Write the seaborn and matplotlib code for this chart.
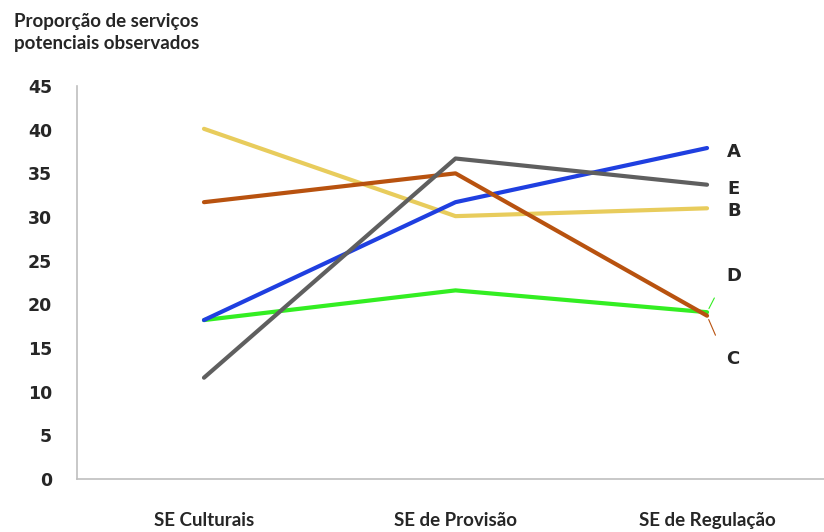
import pandas as pd
import matplotlib
matplotlib.use('Agg')
import matplotlib.pyplot as plt
import seaborn as sns

categorias = ['SE Culturais', 'SE de Provisão', 'SE de Regulação']
serie_A = [18.2, 31.7, 37.9]
serie_B = [40.1, 30.1, 31.0]
serie_C = [31.7, 35.0, 18.7]
serie_D = [18.2, 21.6, 19.1]
serie_E = [11.6, 36.7, 33.7]

nomes = ['A', 'B', 'C', 'D', 'E']
cores = {'A': '#1f3fe0', 'B': '#e8cc5c', 'C': '#b8520f', 'D': '#33ee22', 'E': '#5f5f5f'}

df = pd.DataFrame({'categoria': categorias * 5,
                   'serie': [n for n in nomes for _ in categorias],
                   'valor': serie_A + serie_B + serie_C + serie_D + serie_E})
df['x'] = df['categoria'].map({c: i for i, c in enumerate(categorias)})

sns.set_style('white')

fig = plt.figure(figsize=(8.24, 5.32), dpi=100)
ax = fig.add_axes([0.0934, 0.0996, 0.9066, 0.7387])

# ordem de desenho: cinza por cima do azul, etc.
ordem = ['D', 'B', 'A', 'C', 'E']
sns.lineplot(data=df, x='x', y='valor', hue='serie', hue_order=ordem, palette=cores,
             linewidth=3, legend=False, ax=ax, sort=False)

ax.set_xlim(-0.505, 2.465)
ax.set_ylim(0, 45)
ax.set_yticks(range(0, 46, 5))
ax.set_yticklabels([str(v) for v in range(0, 46, 5)], fontsize=12.5, fontweight='bold',
                   family='DejaVu Sans')
ax.set_xticks(range(len(categorias)))
ax.set_xticklabels(categorias, fontsize=13.5, fontweight='bold', family='Lato')
ax.tick_params(axis='both', length=0)
ax.tick_params(axis='x', pad=24)
ax.tick_params(axis='y', pad=18)
ax.set_xlabel('')
ax.set_ylabel('')

for s in ['top', 'right']:
    ax.spines[s].set_visible(False)
for s in ['left', 'bottom']:
    ax.spines[s].set_color('#bfbfbf')
    ax.spines[s].set_linewidth(1.2)

# rótulos das séries
ultimo = {'A': serie_A[-1], 'B': serie_B[-1], 'C': serie_C[-1], 'D': serie_D[-1], 'E': serie_E[-1]}
desloc = {'A': -0.5, 'B': -0.3, 'E': -0.5}
for n in ['A', 'B', 'E']:
    ax.text(2.08, ultimo[n] + desloc[n], n, fontsize=13, fontweight='bold',
            va='center', ha='left', family='DejaVu Sans')
ax.annotate('D', xy=(2.0, ultimo['D']), xytext=(2.075, 23.3), fontsize=13, fontweight='bold',
            va='center', ha='left', family='DejaVu Sans',
            arrowprops=dict(arrowstyle='-', color=cores['D'], lw=0.8,
                            shrinkA=13, shrinkB=3, relpos=(0, 0.5)))
ax.annotate('C', xy=(2.0, ultimo['C']), xytext=(2.075, 13.7), fontsize=13, fontweight='bold',
            va='center', ha='left', family='DejaVu Sans',
            arrowprops=dict(arrowstyle='-', color=cores['C'], lw=0.8,
                            shrinkA=13, shrinkB=3, relpos=(0, 0.5)))

fig.text(0.017, 0.975, 'Proporção de serviços\npotenciais observados', fontsize=13.5,
         fontweight='bold', family='Lato', va='top', ha='left', linespacing=1.35)

fig.savefig('out.png', dpi=100)
